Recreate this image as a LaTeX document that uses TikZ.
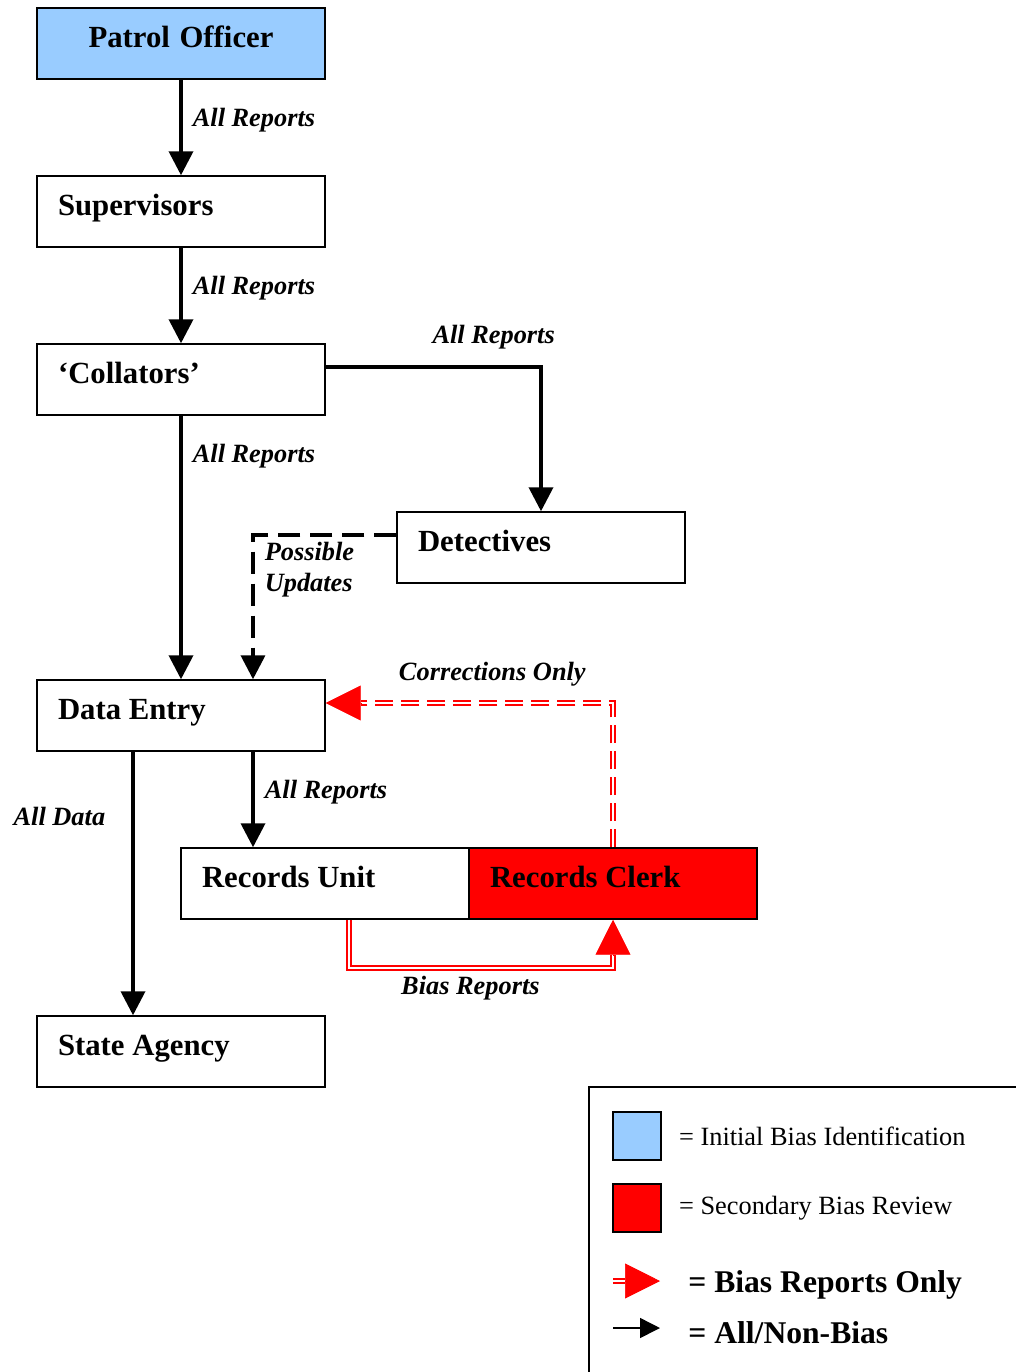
\documentclass[tikz,border=0pt]{standalone}
\usepackage{fontspec}
\setmainfont{Liberation Serif}
\usepackage{xcolor}
\usetikzlibrary{arrows.meta,positioning}
\definecolor{officerblue}{HTML}{99CCFF}
\newcommand\boxfont{\fontsize{17.5}{21}\selectfont\bfseries}
\newcommand\lblfont{\fontsize{15}{17.6}\selectfont\bfseries\itshape}
\newcommand\keyfont{\fontsize{15}{18}\selectfont}
\newcommand\keybold{\fontsize{18}{21}\selectfont\bfseries}

\begin{document}
\begin{tikzpicture}[x=0.02cm, y=-0.02cm,
    unit/.style={draw, line width=0.85pt, minimum width=5.76cm, minimum height=1.42cm,
        text width=4.92cm, inner xsep=0.42cm, align=left, font=\boxfont,
        text height=0.7em, text depth=0.3em,
        execute at begin node={\spaceskip=0pt\xspaceskip=0pt\relax}},
    flow/.style={line width=2.1pt, -{Triangle[length=0.48cm,width=0.48cm]}},
    maybe/.style={flow, dash pattern=on 0.44cm off 0.2cm},
    lbl/.style={font=\lblfont, inner sep=0.1cm},
    redline/.style={draw=red, double=white, double distance=1.4pt, line width=1pt},
    redtip/.style={red, line width=0.4pt, -{Triangle[length=0.7cm,width=0.7cm]}}]
        \useasboundingbox (0,0) rectangle (1016,1372);

        % Units of the reporting chain
        \node[unit, fill=officerblue, align=center] (officer) at (181,43.5) {Patrol Officer};
        \node[unit] (supervisors) at (181,211.5) {Supervisors};
        \node[unit] (collators) at (181,379.5) {‘Collators’};
        \node[unit] (detectives) at (541,547.5) {Detectives};
        \node[unit] (entry) at (181,715.5) {Data Entry};
        \node[unit] (records) at (325,883.5) {Records Unit};
        \node[unit, fill=red] (clerk) at (613,883.5) {Records Clerk};
        \node[unit] (agency) at (181,1051.5) {State Agency};

        % All reports
        \draw[flow] (officer) -- (supervisors) node[lbl, right=0.1cm, pos=0.42] {All Reports};
        \draw[flow] (supervisors) -- (collators) node[lbl, right=0.1cm, pos=0.42] {All Reports};
        \draw[flow] ([yshift=0.25cm]collators.east) -| (detectives.north)
            node[lbl, above=0.22cm, pos=0.39] {All Reports};
        \draw[flow] (collators) -- (entry) node[lbl, right=0.1cm, pos=0.155] {All Reports};
        \draw[maybe] ([yshift=0.25cm]detectives.west) -| ([xshift=1.44cm]entry.north)
            node[lbl, below right, xshift=0.1cm, pos=0.5, align=left] {Possible\\Updates};
        \draw[flow] ([xshift=1.44cm]entry.south) -- ([xshift=-1.44cm]records.north)
            node[lbl, right=0.1cm, pos=0.42] {All Reports};
        \draw[flow] ([xshift=-0.96cm]entry.south) -- ([xshift=-0.96cm]agency.north)
            node[lbl, left=0.42cm, pos=0.245] {All Data};

        % Bias reports and corrections
        \draw[redline, shorten >=0.7cm] ([xshift=0.48cm]records.south) -- ++(0,48) -| (clerk.south)
            node[lbl, below=0.06cm, pos=0.23] {Bias Reports};
        \draw[redtip] ([yshift=-0.7cm]clerk.south) -- (clerk.south);
        \draw[redline, dash pattern=on 0.36cm off 0.16cm, shorten >=0.7cm]
            (clerk.north) |- ([yshift=0.25cm]entry.east)
            node[lbl, above=0.22cm, pos=0.71] {Corrections Only};
        \draw[redtip] ([xshift=0.7cm,yshift=0.25cm]entry.east) -- ([yshift=0.25cm]entry.east);

        % Key
        \draw[line width=0.85pt] (1016,1087) -| (589,1372);
        \foreach \c/\y/\t in {officerblue/1136/Initial Bias Identification,
                              red/1208/Secondary Bias Review} {
            \node[draw, line width=0.85pt, fill=\c, minimum size=0.96cm] (key\c) at (637,\y) {};
            \node[font=\keyfont, inner sep=0pt, right=0.34cm of key\c] (key\c text) {= \t};
        }
        \coordinate (biaskeyA) at (613,1281);
        \coordinate (biaskeyB) at (660,1281);
        \draw[redline, shorten >=0.7cm] (biaskeyA) -- (biaskeyB);
        \draw[redtip] ([xshift=-0.7cm]biaskeyB) -- (biaskeyB);
        \node[font=\keybold, anchor=west, inner sep=0pt] (biaskeytext) at (688,1285) {= Bias Reports Only};
        \coordinate (allkeyA) at (613,1328);
        \coordinate (allkeyB) at (660,1328);
        \draw[line width=0.85pt, -{Triangle[length=0.4cm,width=0.4cm]}] (allkeyA) -- (allkeyB);
        \node[font=\keybold, anchor=west, inner sep=0pt] (allkeytext) at (688,1333) {= All/Non-Bias};
    \end{tikzpicture}
\end{document}
